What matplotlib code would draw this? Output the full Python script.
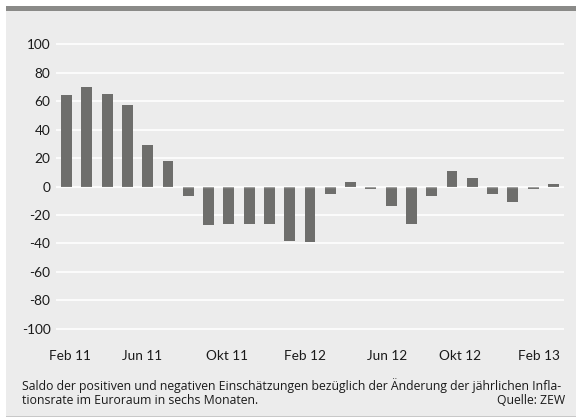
import matplotlib.pyplot as plt
from matplotlib.patches import Rectangle
import numpy as np

# ZEW: Saldo der Inflationserwartungen Euroraum, Feb 11 - Feb 13
months = ['Feb 11', 'Mär 11', 'Apr 11', 'Mai 11', 'Jun 11', 'Jul 11', 'Aug 11',
          'Sep 11', 'Okt 11', 'Nov 11', 'Dez 11', 'Jan 12', 'Feb 12', 'Mär 12',
          'Apr 12', 'Mai 12', 'Jun 12', 'Jul 12', 'Aug 12', 'Sep 12', 'Okt 12',
          'Nov 12', 'Dez 12', 'Jan 13', 'Feb 13']
saldo = [64, 70, 65, 57, 29, 18, -7, -27, -26, -26, -26, -38, -39, -5,
         3, -2, -14, -26, -7, 11, 6, -5, -11, -2, 2]

tick_labels = ['Feb 11', 'Jun 11', 'Okt 11', 'Feb 12', 'Jun 12', 'Okt 12', 'Feb 13']
tick_pos = [0.15, 3.7, 7.9, 11.75, 15.8, 19.4, 23.3]
yticks = [100, 80, 60, 40, 20, 0, -20, -40, -60, -80, -100]

plt.rcParams['font.family'] = ['Lato', 'DejaVu Sans']

bg = '#ececec'
fig = plt.figure(figsize=(5.76, 4.17), dpi=100)
fig.patch.set_facecolor('white')
# panel background, top band and bottom line
fig.patches.append(Rectangle((6/576, 1 - 416/417), 570/576, 410/417,
                             transform=fig.transFigure, facecolor=bg, edgecolor='none', zorder=-10))
fig.patches.append(Rectangle((6/576, 1 - 11/417), 570/576, 5/417,
                             transform=fig.transFigure, facecolor='#8a8a88', edgecolor='none', zorder=-9))
fig.patches.append(Rectangle((6/576, 1 - 417/417), 570/576, 1.5/417,
                             transform=fig.transFigure, facecolor='#c8c8c8', edgecolor='none', zorder=-9))

ax = fig.add_axes([56/576, 1 - 336.1/417, 508/576, 299.2/417])
ax.set_facecolor(bg)
x = np.arange(len(months))
ax.bar(x, saldo, width=0.54, color='#6e6e6c', zorder=2)
ax.axhline(0, color='white', alpha=0.35, lw=1.0, zorder=3)

ax.set_xlim(-0.52, 24.52)
ax.set_ylim(-105, 105)
ax.set_yticks(yticks)
ax.set_yticklabels([str(v) for v in yticks])
ax.set_xticks(tick_pos)
ax.set_xticklabels(tick_labels)
ax.grid(axis='y', color='white', lw=1.2, zorder=1)
ax.tick_params(axis='both', length=0, labelsize=9.8, colors='#1a1a1a')
ax.tick_params(axis='y', pad=4)
ax.tick_params(axis='x', pad=10)
for s in ax.spines.values():
    s.set_visible(False)

cap = dict(fontsize=8.8, va='center', color='#1a1a1a', family=['Open Sans', 'DejaVu Sans'])
fig.text(22/576, 1 - 386/417,
         'Saldo der positiven und negativen Einschätzungen bezüglich der Änderung der jährlichen Infla-',
         ha='left', **cap)
fig.text(22/576, 1 - 401/417, 'tionsrate im Euroraum in sechs Monaten.', ha='left', **cap)
fig.text(565/576, 1 - 401/417, 'Quelle: ZEW', ha='right', **cap)

fig.savefig('out.png', dpi=100, facecolor=fig.get_facecolor())
